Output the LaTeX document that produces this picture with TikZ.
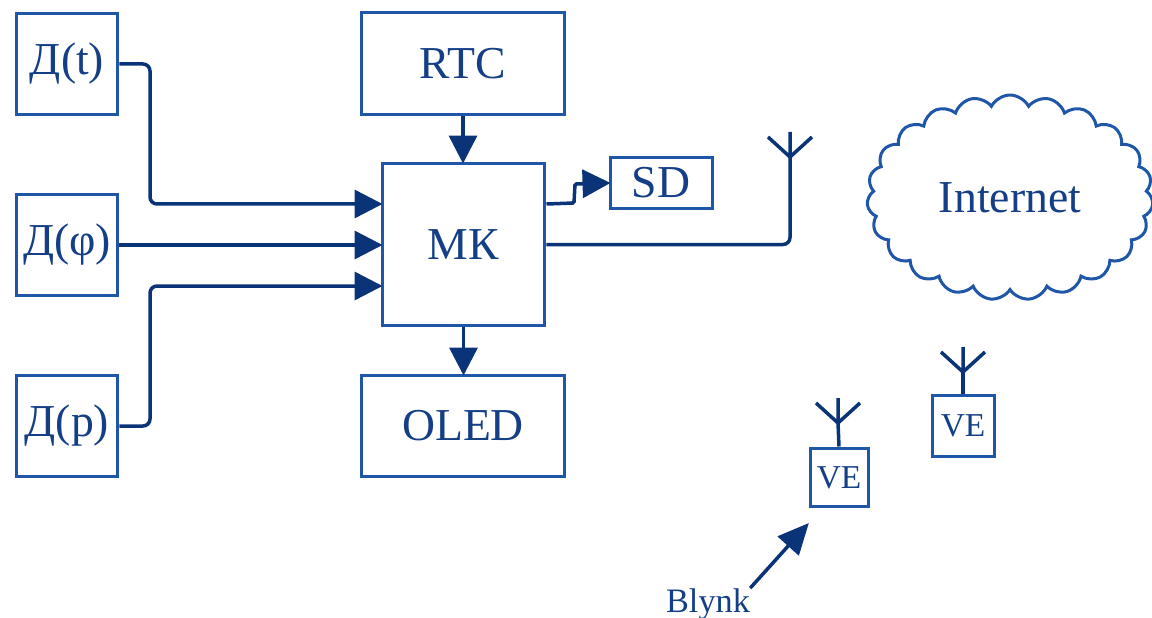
\documentclass[tikz,border=0pt]{standalone}
\usepackage{fontspec}
\setmainfont{Liberation Serif}
\usepackage{xcolor}
\usetikzlibrary{arrows.meta,shapes.symbols}
\definecolor{boxblue}{HTML}{1F56A8}
\definecolor{wireblue}{HTML}{0B3478}
\definecolor{textblue}{HTML}{143F86}
\tikzstyle{blockbox}=[rectangle, draw=boxblue, line width=0.06cm, inner sep=0pt, text=textblue,
text centered, font=\fontsize{26}{30}\selectfont]
\tikzstyle{smallbox}=[blockbox, font=\fontsize{19}{22}\selectfont]
\tikzstyle{wire}=[draw=wireblue, line width=0.07cm, rounded corners=0.14cm]
\tikzstyle{arrowwire}=[wire, shorten >=-0.04cm, -{Triangle[length=0.56cm,width=0.56cm]}]

\begin{document}
\begin{tikzpicture}[x=0.02cm,y=-0.02cm]
            \useasboundingbox (0,0) rectangle (1152,618);
            \node (dt)[blockbox, minimum width=2.04cm, minimum height=2.04cm] at (67,64) {Д(t)};
            \node (dphi)[blockbox, minimum width=2.04cm, minimum height=2.04cm] at (67,245) {Д(φ)};
            \node (dp)[blockbox, minimum width=2.04cm, minimum height=2.04cm] at (67,426) {Д(p)};
            \node (rtc)[blockbox, minimum width=4.08cm, minimum height=2.04cm] at (463,63.5) {RTC};
            \node (mk)[blockbox, minimum width=3.26cm, minimum height=3.26cm] at (463.5,244.5) {МК};
            \node (oled)[blockbox, minimum width=4.08cm, minimum height=2.04cm] at (463,426) {OLED};
            \node (sd)[blockbox, minimum width=2.04cm, minimum height=1.02cm] at (661,183) {SD};
            \node (ve1)[smallbox, minimum width=1.16cm, minimum height=1.18cm] at (839,477.5) {VE};
            \node (ve2)[smallbox, minimum width=1.24cm, minimum height=1.24cm] at (963,426) {VE};
            \node (net)[cloud, cloud puffs=23, cloud puff arc=125, aspect=1.4, draw=boxblue, line width=0.06cm,
                minimum width=5.72cm, minimum height=4.1cm, inner sep=0pt, text=textblue,
                font=\fontsize{26}{30}\selectfont] at (1010,197.5) {Internet};
            \node (blynk)[text=textblue, inner sep=0pt, font=\fontsize{19.5}{22}\selectfont] at (708,604) {Blynk};

            \coordinate (fork1) at (790,157);
            \coordinate (fork2) at (838,423);
            \coordinate (fork3) at (963,372);

            \draw [arrowwire] (dt.east) -- (150,64) -- (150,204) -- (mk.west |- 0,204);
            \draw [arrowwire] (dphi.east) -- (mk.west |- dphi.east);
            \draw [arrowwire] (dp.east) -- (150,426) -- (150,286) -- (mk.west |- 0,286);
            \draw [arrowwire] (rtc.south) -- (rtc.south |- mk.north);
            \draw [arrowwire] (mk.south) -- (mk.south |- oled.north);
            \draw [arrowwire, rounded corners=0.03cm] (mk.east |- 0,204) -- (574,203) -- (575,184) -- (sd.west);
            \draw [wire] (mk.east) -| (fork1);
            \draw [wire] (ve1.north) -- (fork2);
            \draw [wire] (ve2.north) -- (fork3);
            \foreach \f in {fork1,fork2,fork3}
                \draw [wire] (\f) -- ++(-22,-20) (\f) -- ++(22,-20) (\f) -- ++(0,-25);
            \draw [arrowwire, -{Triangle[length=0.62cm,width=0.56cm]}] (blynk.north east) -- ([shift={(-1,16)}]ve1.south west);
        \end{tikzpicture}
\end{document}
